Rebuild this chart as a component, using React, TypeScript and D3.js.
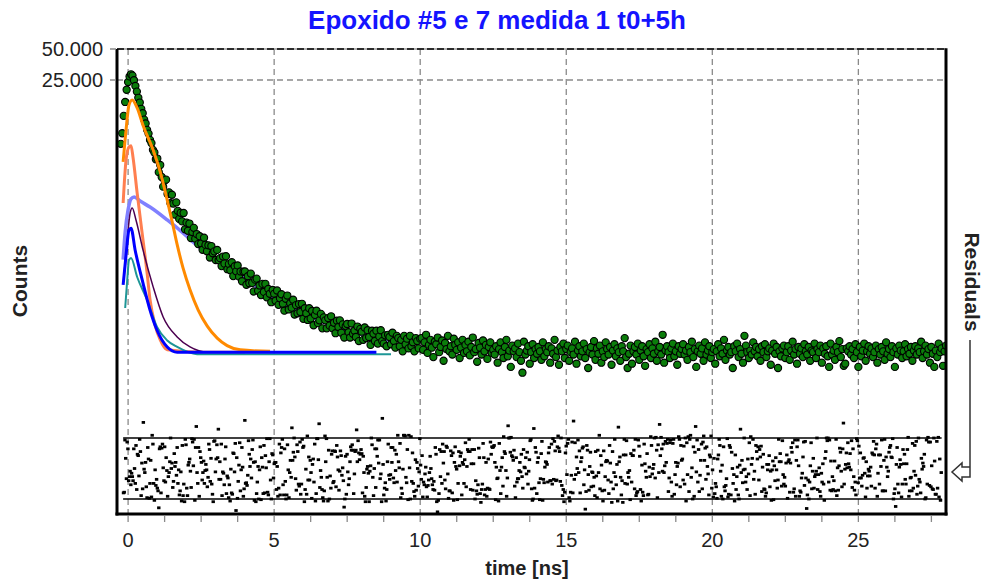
import React from 'react';
import * as d3 from 'd3';

// ---------- data ----------
const TITLE = 'Epoxido #5 e 7 medida 1 t0+5h';
const X_LABEL = 'time [ns]';
const Y_LABEL = 'Counts';
const RES_LABEL = 'Residuals';

const X_TICKS = [0, 5, 10, 15, 20, 25];
const X_MINOR_STEP = 1.25;
const Y_TICKS = [50000, 25000];
const Y_TICK_LABELS = ['50.000', '25.000'];

// TCSPC channels: start time and channel width (ns)
const CHANNEL_T0 = -0.25;
const CHANNEL_WIDTH = 0.05;
const COUNTS = [
  6000, 7600, 11200, 15300, 20100, 23900, 27100, 28400, 27600, 24900,
  21900, 19300, 16800, 15100, 13100, 11900, 10300, 9450, 8200, 7550,
  6550, 6100, 5250, 4950, 4250,
  4321, 3186, 3738, 2860, 2305, 2637, 2695, 1954, 2030, 1591,
  1923, 1576, 1234, 1621, 1341, 1120, 1284, 1060, 1279, 888,
  1032, 860, 1010, 730, 835, 917, 721, 799, 639, 761,
  646, 562, 735, 627, 543, 621, 473, 611, 520, 542,
  447, 560, 445, 466, 390, 483, 412, 487, 364, 408,
  356, 425, 312, 389, 347, 396, 308, 346, 278, 344,
  346, 257, 311, 266, 330, 268, 221, 288, 295, 225,
  253, 204, 262, 219, 262, 194, 234, 210, 174, 229,
  210, 180, 226, 164, 190, 208, 168, 144, 188, 202,
  148, 170, 154, 184, 132, 163, 136, 167, 140, 168,
  120, 152, 136, 117, 152, 121, 143, 104, 131, 144,
  109, 116, 134, 97, 124, 116, 97, 122, 103, 127,
  97, 110, 87, 115, 100, 116, 88, 106, 79, 102,
  107, 89, 79, 108, 86, 92, 80, 101, 73, 96,
  90, 75, 99, 78, 93, 80, 67, 92, 86, 73,
  92, 69, 81, 93, 73, 69, 83, 65, 84, 80,
  68, 88, 73, 63, 82, 78, 65, 75, 58, 82,
  68, 77, 62, 82, 65, 71, 58, 78, 73, 62,
  77,
  78, 60, 71, 84, 56, 67, 75, 63, 51, 72,
  68, 79, 57, 64, 74, 47, 70, 61, 82, 58,
  65, 54, 77, 67, 60, 71, 50, 63, 75, 56,
  67, 58, 72, 53, 64, 79, 57, 61, 46, 70,
  63, 54, 74, 58, 67, 49, 64, 71, 56, 60,
  54, 65, 45, 61, 71, 57, 50, 64, 75, 52,
  59, 41, 66, 58, 62, 51, 69, 57, 47, 36,
  72, 54, 59, 65, 44, 57, 68, 50, 61, 55,
  64, 58, 48, 71, 52, 61, 57, 65, 45, 62,
  55, 75, 51, 59, 43, 64, 58, 69, 50, 61,
  66, 47, 57, 62, 54, 72, 44, 59, 65, 52,
  58, 69, 50, 61, 40, 57, 64, 54, 73, 48,
  62, 55, 66, 45, 58, 51, 71, 61, 54, 64,
  43, 59, 68, 52, 62, 57, 47, 65, 58, 78,
  51, 40, 55, 66, 44, 58, 64, 54, 69, 48,
  59, 65, 52, 42, 61, 57, 68, 50, 62, 55,
  72, 47, 58, 64, 54, 84, 45, 59, 65, 57,
  50, 62, 69, 52, 58, 43, 65, 55, 61, 68,
  54, 59, 48, 64, 57, 72, 51, 61, 41, 58,
  66, 55, 62, 47, 71, 54, 59, 65, 50, 57,
  61, 44, 58, 68, 52, 62, 55, 75, 48, 59,
  64, 54, 57, 40, 65, 58, 69, 51, 61, 55,
  45, 82, 66, 57, 50, 59, 54, 71, 58, 64,
  52, 61, 47, 65, 57, 68, 51, 58, 62, 43,
  59, 69, 55, 64, 40, 58, 52, 62, 66, 50,
  57, 65, 48, 59, 72, 54, 61, 44, 64, 55,
  62, 51, 68, 58, 54, 64, 47, 59, 57, 69,
  50, 61, 57, 66, 45, 62, 55, 65, 52, 41,
  69, 54, 59, 48, 64, 57, 73, 51, 61, 42,
  44, 62, 58, 65, 54, 61, 50, 68, 57, 41,
  64, 52, 59, 69, 47, 58, 65, 55, 62, 51,
  57, 66, 45, 61, 54, 64, 58, 48, 71, 55,
  61, 51, 65, 57, 41, 62, 54, 66, 59, 50,
  58, 68, 52, 61, 55, 64, 47, 59, 65, 54,
  62, 57, 72, 50, 58, 66, 54, 61, 45, 64,
  55, 41, 59, 51, 69, 57, 62, 42, 58, 66,
];

// fit components (time ns, counts)
const ORANGE_T = [-0.17, -0.07, 0.03, 0.14, 0.31, 0.51, 0.86, 1.10, 1.34, 1.51, 1.68, 1.88, 2.12, 2.40, 2.71, 3.05, 3.39, 3.84, 4.86];
const ORANGE_C = [4000, 8200, 14300, 16000, 13400, 9100, 5200, 3200, 1700, 1050, 630, 375, 230, 146, 102, 78, 66, 60, 58];
const CORAL_T = [-0.17, -0.07, 0.03, 0.10, 0.17, 0.31, 0.48, 0.65, 0.75, 0.92, 1.10, 1.34, 2.47, 4.0];
const CORAL_C = [1600, 4200, 5600, 5750, 4400, 2000, 820, 335, 185, 105, 75, 60, 57, 57];
const LAVENDER_T = [-0.17, -0.10, 0.0, 0.10, 0.21, 0.41, 0.75, 1.34, 1.88, 2.23, 3.0, 4.0, 5.0, 6.0, 7.0, 8.0, 9.0];
const LAVENDER_C = [450, 835, 1370, 1750, 1830, 1670, 1460, 1095, 820, 668, 463, 292, 192, 136, 103, 85, 74];
const PURPLE_T = [-0.14, -0.03, 0.07, 0.14, 0.27, 0.51, 0.86, 1.20, 1.68, 2.12, 2.71, 4.0];
const PURPLE_C = [320, 700, 1280, 1430, 1095, 560, 244, 125, 80, 64, 57, 57];
const TEAL_T = [-0.10, -0.03, 0.03, 0.10, 0.31, 0.65, 0.99, 1.34, 1.68, 2.36, 9.0];
const TEAL_C = [153, 286, 447, 468, 306, 183, 100, 74, 64, 54.5, 54.5];
const BLUE_T = [-0.17, -0.07, 0.03, 0.10, 0.24, 0.51, 0.75, 0.99, 1.34, 1.68, 8.5];
const BLUE_C = [256, 500, 875, 910, 560, 267, 146, 93, 64, 57, 57];

// weighted residuals (scaled units), evenly spread over the fit range
const FIT_RANGE = [-0.17, 27.85];
const RES_LIMITS = [-45, 45];
const RESIDUALS = [
  -36, -35, 42, 15, -15, 39, 29, -18, -12, -4, -24, -7, -12, -18, 29, 0, -22, 34, -31, 21,
  19, -11, 43, 25, -40, 8, -30, 68, -1, -6, 9, -27, -43, 31, 14, -44, -22, 12, -42, 49,
  36, -22, -47, -2, -25, -16, -29, -33, -58, 29, 32, -36, 30, 36, 1, -18, 32, -20, 16, -3,
  -41, -12, -6, 10, 45, 0, 8, -28, -19, 22, 3, 9, -10, 31, -22, -2, -39, -33, -5, -48,
  34, -40, -23, -49, 43, 35, -29, -40, 5, 9, 14, -4, -28, 44, 39, 4, 43, -47, 31, 62,
  -6, -22, 31, -41, 25, 16, 9, -17, -6, 11, -22, -3, 6, -2, -27, -13, 36, 28, -19, 15,
  -23, -38, -49, 40, 41, -5, 14, 35, 16, 58, -16, 10, -16, 36, -40, -5, -7, -24, 14, 32,
  -37, -11, -14, -43, -24, -48, -1, -36, -38, 23, 22, -5, 37, -62, 16, -44, -19, 5, 38, -33,
  -2, 31, 2, -41, -30, 71, -22, -21, -25, -10, 41, 21, 3, 14, -14, 28, 42, 9, -47, 10,
  -49, -37, -20, 3, -45, -2, 32, -46, 16, 2, -37, 34, -36, 19, 1, 44, -35, -39, 10, 44,
  -17, -45, 22, 20, -14, 7, 9, 9, -31, 3, -41, -29, 36, -39, 23, 31, 43, -24, -39, 29,
  -19, -45, -39, 35, -2, -43, -6, 12, -13, 60, 12, 24, 45, 17, -15, -32, 35, 25, -23, -26,
  39, -38, -23, 43, 31, 33, -49, -31, -1, -38, 48, -17, 17, -17, 12, -6, -44, 6, 14, -20,
  36, -48, -37, 44, 44, 13, 66, -28, -3, -13, -31, -43, -48, -33, 48, 10, 44, -13, -48, 27,
  -45, -11, -29, 21, 26, -21, -19, 26, 25, -27, 34, 17, -2, -32, -4, 26, 19, -10, 1, -18,
  -57, -45, 18, -38, 21, -5, -24, -15, 10, 32, 27, 35, 27, -37, -8, 25, 27, 57, 10, 41,
  23, 13, 21, 28, 22, -36, 18, -6, -41, -49, -28, -1, 3, -7, -49, -4, 4, 45, 35, -13,
  -40, 0, 29, -28, 29, 18, 42, 8, 42, -15, -8, -49, 74, 6, -39, -29, -21, -48, -31, 10,
  36, -10, -16, -9, 31, 9, 31, -14, -21, 27, -3, 21, -20, 49, 10, 1, 37, -43, -29, -37,
  -1, 49, 49, 48, -13, -21, 28, -46, 49, 1, -45, 47, -19, 23, -22, -34, -41, 13, -32, 9,
  0, -26, -5, 44, 5, -16, 19, -42, -20, -24, -8, 2, -27, -42, -25, -17, -6, 18, 0, -15,
  -24, -31, -19, -32, 31, 21, -49, -64, -47, -37, 28, -12, 25, -22, 36, 8, 25, -17, -30, 33,
  31, -8, -44, -33, -33, 26, 19, -36, 23, -47, 9, 32, 3, -1, -46, -22, 25, 4, 18, 23,
  -39, 9, 6, -22, 13, 38, -27, 3, 28, 25, 43, 25, -31, 7, 28, -32, 7, 28, -45, -18,
  -33, -38, -24, 30, 16, -37, -50, -31, -23, 37, 16, -39, -31, 9, -41, -29, 14, -30, -31, 39,
  21, 32, 31, 32, 34, 9, -46, 2, -15, -14, -48, 37, -3, -37, 2, 16, -26, 47, 25, 22,
  -3, -41, -14, 63, 45, 45, 24, 46, 19, 17, 12, 27, -26, -43, 16, -20, -15, -15, -3, 9,
  -5, 21, -12, -29, 28, 2, 1, 16, -8, 24, -23, -4, 13, 41, 43, -30, -47, -45, 59, -29,
  31, 24, -37, 9, 16, -21, -46, -15, 22, 40, -47, -16, -21, 2, 10, 9, 6, -20, 23, 31,
  -18, -18, 36, -23, 44, -16, 40, 26, -18, -17, 32, 48, 30, 25, -19, 45, -25, -40, -31, -49,
  -35, 23, 33, -9, 37, 43, -43, -48, -35, -10, 39, -36, 70, -16, 38, -9, 17, 0, 42, -6,
  26, -36, 10, 16, 30, 32, -24, -2, -60, -34, 34, 27, -9, -32, 3, 24, -27, -5, -6, -26,
  -13, -40, 25, -11, -43, 27, -6, 49, -30, 19, 5, -33, -48, 26, -32, -12, 10, 12, 11, -17,
  -37, 34, 8, -20, -50, 25, -30, -6, 43, -12, -24, 6, -48, 61, 10, 17, -13, -39, -18, -50,
  20, 43, -22, 20, 41, -23, -6, -13, -3, -46, 22, -20, 19, 19, 27, -30, 43, -40, -36, -34,
  42, 33, 18, -31, -48, 5, -35, -40, 36, 7, -4, -13, 22, -39, -38, 2, -12, 47, 34, -8,
  0, 6, 45, -14, 46, 27, -43, 35, -6, 65, 19, 46, 29, -4, 36, -6, 4, 40, 9, 37,
  43, -34, -14, 38, 42, -20, -41, 37, 43, -38,
  -9, 9, -24, 3, 8, 47, 43, -27, 34, 12, 14, -17, 33, -23, 45, -48, 38, -9, 47, -34,
  43, 49, -13, 1, -45, 32, -41, 24, 62, -5, 42, -20, 28, -34, -10, 12, 36, -30, 39, 48,
  12, 30, -16, 32, 3, -8, -39, 20, 17, 48, -29, -2, -42, 15, -37, -22, -27, -44, 14, 20,
  43, 34, -4, -41, 5, -45, 32, -27, -33, -25, -15, 44, -42, -38, 34, 31, -39, 24, 0, -22,
  -9, -48, 20, -31, -12, 2, -39, -45, 5, 58, -6, 12, -21, -2, 45, -1, -20, -12, -31, 14,
  -8, 38, -40, 47, 6, 15, 43, -16, -4, -38, 34, 25, 14, 32, -17, 28, 17, 33, -34, 2,
  21, -30, -31, -41, -36, 6, -2, 6, 19, -27, -4, -47, -2, 11, -46, 4, -18, 16, -2, -29,
  -17, 43, 10, 22, 10, -26, 41, -9, -23, -13, -26, 8, 20, -44, 10, 13, -35, 8, 31, 24,
  38, -35, -30, 42, -41, 12, 32, 42, 4, -41, -33, -35, -14, -7, 17, 39, -25, 40, -14, -59,
  -39, -17, -45, -20, 4, 38, -30, -4, 15, -29, -12, -9, -4, 45, -31, -9, 1, -34, -41, -7,
  -20, 7, -23, -47, 15, 25, 45, 41, 45, -20, 42, -32, 11, -33, -12, -31, -18, 11, -33, 43,
  -40, 1, -32, 4, 30, 24, -4, -27, 29, 67, -23, -1, 6, 23, 1, 38, 7, 2, 22, -2,
  41, -28, 29, -12, -32, -20, -39, 44, 41, -21, 33, -14, 23, -14, -26, -10, 15, 16, -7, -42,
  10, -29, -11, -1, -4, -11, 2, -26, 23, 21, 40, 20, -29, 29, 36, -41, -7, 20, -23, 20,
  3, 42, -33, -33, 12, 43, -33, 17, 2, -12, -4, 24, 31, 34, 17, 16, 44, -45, -37, -30,
  -56, 6, 31, -23, -36, 2, 13, 6, -42, -23, 28, 7, 21, -16, -23, 7, 28, 46, -41, -33,
  -14, -13, -33, 37, -29, -4, 34, -10, 40, -38, -26, 45, -16, -20, -36, 15, -1, 8, 3, 21,
  -45, -43, 42, -23, 46, 39, -25, 39, -27, 4, -30, -31, 45, 11, -38, -38, 40, -29, 46, -42,
  14, -47, -6,
];

// ---------- layout ----------
const W = 986, H = 586;
const PL = 117, PR = 946, PT = 49, PB = 514;
const DECADE_PX = 103;
const RES_TOP = 438, RES_BOTTOM = 499;
const FONT = "'Liberation Sans', Arial, Helvetica, sans-serif";

const COMPONENTS = [
  { t: ORANGE_T, c: ORANGE_C, color: '#ff8a00', width: 3 },
  { t: CORAL_T, c: CORAL_C, color: '#ff7f50', width: 3 },
  { t: PURPLE_T, c: PURPLE_C, color: '#4b0050', width: 1.5 },
  { t: TEAL_T, c: TEAL_C, color: '#1e9696', width: 2 },
  { t: BLUE_T, c: BLUE_C, color: '#0000ff', width: 3 },
];

export default function App() {
  const x = d3.scaleLinear().domain([-0.38, 28.0]).range([PL, PR]);
  const yBottom = Y_TICKS[0] / Math.pow(10, (PB - PT) / DECADE_PX);
  const y = d3.scaleLog().domain([Y_TICKS[0], yBottom]).range([PT, PB]);
  const yr = d3.scaleLinear().domain([RES_LIMITS[1], RES_LIMITS[0]]).range([RES_TOP, RES_BOTTOM]);
  const resStep = (FIT_RANGE[1] - FIT_RANGE[0]) / RESIDUALS.length;

  const line = d3
    .line<[number, number]>()
    .x((d) => x(d[0]))
    .y((d) => y(d[1]))
    .curve(d3.curveMonotoneX);

  const pathOf = (t: number[], c: number[]) =>
    line(c.map((v, i) => [t[i], v] as [number, number])) || '';

  const minor = d3.range(0, 28, X_MINOR_STEP);

  return (
    <svg
      width={W}
      height={H}
      style={{ position: 'absolute', left: 0, top: 0, background: '#fff' }}
      fontFamily={FONT}
    >
      <defs>
        <clipPath id="plotclip">
          <rect x={PL} y={PT} width={PR - PL} height={PB - PT} />
        </clipPath>
      </defs>
      <rect x={0} y={0} width={W} height={H} fill="#fff" />

      {/* title */}
      <text x={497} y={29} textAnchor="middle" fontSize={26} fontWeight="bold" fill="#1414ff">
        {TITLE}
      </text>

      {/* grid */}
      {X_TICKS.map((v) => (
        <line key={'gx' + v} x1={x(v)} x2={x(v)} y1={PT} y2={PB} stroke="#8a8a8a" strokeWidth={1.3} strokeDasharray="6,4" />
      ))}
      <line x1={PL} x2={PR} y1={y(Y_TICKS[1])} y2={y(Y_TICKS[1])} stroke="#8a8a8a" strokeWidth={1.3} strokeDasharray="6,4" />
      <line x1={PL} x2={PR} y1={PT} y2={PT} stroke="#9a9a9a" strokeWidth={1.6} />
      <line x1={PL} x2={PR} y1={PT} y2={PT} stroke="#000" strokeWidth={1.6} strokeDasharray="7,3" />

      {/* residual band */}
      <g clipPath="url(#plotclip)">
        <line x1={x(FIT_RANGE[0])} x2={x(FIT_RANGE[1])} y1={yr(RES_LIMITS[1])} y2={yr(RES_LIMITS[1])} stroke="#000" strokeWidth={1.5} />
        <line x1={x(FIT_RANGE[0])} x2={x(FIT_RANGE[1])} y1={yr(RES_LIMITS[0])} y2={yr(RES_LIMITS[0])} stroke="#000" strokeWidth={1.5} />
        {RESIDUALS.map((r, i) => (
          <rect
            key={'r' + i}
            x={x(FIT_RANGE[0] + (i + 0.5) * resStep) - 1.7}
            y={yr(r) - 1.4}
            width={3.4}
            height={2.8}
            fill="#000"
          />
        ))}
      </g>

      {/* curves and data */}
      <g clipPath="url(#plotclip)">
        <path d={pathOf(LAVENDER_T, LAVENDER_C)} fill="none" stroke="#8080ff" strokeWidth={3.5} />
        {COUNTS.map((c, i) => (
          <circle key={'d' + i} cx={x(CHANNEL_T0 + i * CHANNEL_WIDTH)} cy={y(c)} r={3.6} fill="#0b7d0b" stroke="#000" strokeWidth={1.1} />
        ))}
        {COMPONENTS.map((cp, k) => (
          <path key={'c' + k} d={pathOf(cp.t, cp.c)} fill="none" stroke={cp.color} strokeWidth={cp.width} />
        ))}
      </g>

      {/* axes frame */}
      <line x1={PL} x2={PL} y1={PT} y2={PB + 1.5} stroke="#000" strokeWidth={3} />
      <line x1={PL - 1.5} x2={PR + 1.5} y1={PB} y2={PB} stroke="#000" strokeWidth={3} />
      <line x1={PR} x2={PR} y1={PT - 0.8} y2={PB + 1.5} stroke="#000" strokeWidth={3} />

      {/* x ticks */}
      {minor.map((v) => (
        <line key={'mt' + v} x1={x(v)} x2={x(v)} y1={PB + 2} y2={PB + 8} stroke="#8a8a8a" strokeWidth={1.3} />
      ))}
      {X_TICKS.map((v) => (
        <text key={'xl' + v} x={x(v)} y={547} textAnchor="middle" fontSize={20} fill="#222">
          {v}
        </text>
      ))}

      {/* y ticks */}
      {Y_TICKS.map((v, i) => (
        <g key={'yt' + v}>
          <line x1={PL - 7} x2={PL - 1} y1={y(v)} y2={y(v)} stroke="#8a8a8a" strokeWidth={1.5} />
          <text x={103} y={y(v)} dy="0.35em" textAnchor="end" fontSize={20} fill="#222">
            {Y_TICK_LABELS[i]}
          </text>
        </g>
      ))}

      {/* axis titles */}
      <text x={527} y={575} textAnchor="middle" fontSize={20} fontWeight="bold" fill="#222">
        {X_LABEL}
      </text>
      <text transform="translate(20,281) rotate(-90)" dy="0.35em" textAnchor="middle" fontSize={21} fontWeight="bold" fill="#222">
        {Y_LABEL}
      </text>
      <text transform="translate(972,282) rotate(90)" dy="0.35em" textAnchor="middle" fontSize={21} fontWeight="bold" fill="#222">
        {RES_LABEL}
      </text>
      <path
        d="M970,340 V477 H962 V481 L952,472 L962,463 V467 H970"
        fill="#fff"
        stroke="#333"
        strokeWidth={1.5}
      />
    </svg>
  );
}
